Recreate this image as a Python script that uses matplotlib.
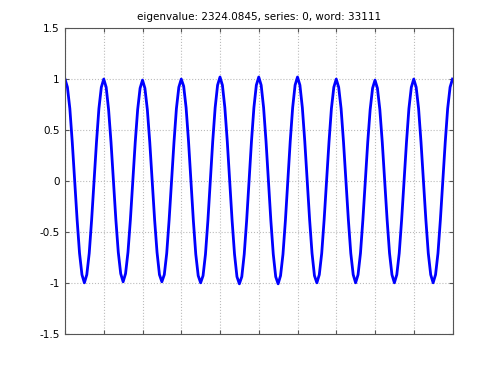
import numpy as np
import matplotlib
matplotlib.use('Agg')
import matplotlib.pyplot as plt

# eigenvector samples, 16 per period
series = [
    1.00, 0.92, 0.71, 0.38, 0.00, -0.38, -0.71, -0.92,
    -1.00, -0.92, -0.71, -0.38, 0.00, 0.38, 0.71, 0.92,
    1.00, 0.92, 0.70, 0.38, 0.00, -0.38, -0.70, -0.91,
    -0.99, -0.91, -0.70, -0.38, 0.00, 0.38, 0.70, 0.91,
    0.99, 0.91, 0.70, 0.38, 0.00, -0.38, -0.70, -0.92,
    -0.99, -0.92, -0.71, -0.38, 0.00, 0.38, 0.71, 0.92,
    1.00, 0.93, 0.72, 0.39, 0.00, -0.39, -0.72, -0.93,
    -1.00, -0.93, -0.72, -0.39, 0.00, 0.39, 0.72, 0.94,
    1.02, 0.94, 0.72, 0.39, 0.00, -0.39, -0.72, -0.94,
    -1.01, -0.94, -0.72, -0.39, 0.00, 0.39, 0.72, 0.94,
    1.02, 0.94, 0.72, 0.39, 0.00, -0.39, -0.72, -0.94,
    -1.01, -0.93, -0.72, -0.39, 0.00, 0.39, 0.72, 0.94,
    1.02, 0.94, 0.72, 0.39, 0.00, -0.38, -0.71, -0.93,
    -1.00, -0.92, -0.71, -0.38, 0.00, 0.38, 0.71, 0.92,
    1.00, 0.92, 0.71, 0.38, 0.00, -0.38, -0.71, -0.92,
    -1.00, -0.92, -0.71, -0.38, 0.00, 0.38, 0.70, 0.91,
    0.99, 0.91, 0.70, 0.38, 0.00, -0.38, -0.71, -0.92,
    -1.00, -0.92, -0.71, -0.38, 0.00, 0.38, 0.71, 0.92,
    1.00, 0.92, 0.71, 0.38, 0.00, -0.38, -0.71, -0.92,
    -1.00, -0.92, -0.71, -0.38, 0.00, 0.38, 0.71, 0.92,
    1.00,
]
y_ticks = [-1.5, -1, -0.5, 0, 0.5, 1, 1.5]
y_labels = ['-1.5', '-1', '-0.5', '0', '0.5', '1', '1.5']
title = 'eigenvalue: 2324.0845, series: 0, word: 33111'

plt.rcParams['font.family'] = ['DejaVu Sans']
fig = plt.figure(figsize=(5, 3.75), dpi=100)
ax = fig.add_axes([0.13, 0.11, 0.775, 0.815])

x = np.arange(len(series)) / 16.0
ax.plot(x, series, color=(0, 0, 1), lw=2)

ax.set_xlim(0, x[-1])
ax.set_ylim(-1.5, 1.5)
ax.set_xticks(np.arange(0, 11))
ax.set_xticklabels([])
ax.set_yticks(y_ticks)
ax.set_yticklabels(y_labels, fontsize=7.5)
ax.tick_params(direction='in', top=True, right=True, length=3,
               color='#555555', pad=4)
for s in ax.spines.values():
    s.set_color('#555555')
    s.set_linewidth(0.8)
ax.grid(True, linestyle=':', color='#bbbbbb', linewidth=0.8)
ax.set_title(title, fontsize=7.5, pad=6)

plt.savefig('out.png', dpi=100)
